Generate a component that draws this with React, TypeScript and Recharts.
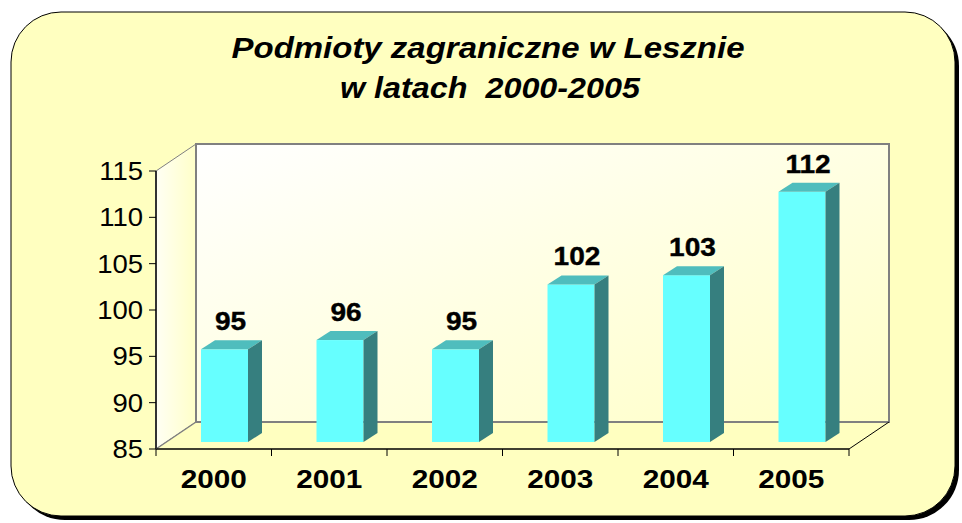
import { BarChart, Bar, XAxis, YAxis, LabelList } from "recharts";

const years = ["2000", "2001", "2002", "2003", "2004", "2005"];
const counts = [95, 96, 95, 102, 103, 112];
const yTicks = [85, 90, 95, 100, 105, 110, 115];

const W = 962;
const H = 523;
const FONT = '"Liberation Sans", Arial, sans-serif';

// front plane of the 3d box
const PL = 156;
const PR = 849;
const PT = 171;
const PB = 449;
const BAND = (PR - PL) / years.length;
// depth of the walls
const WX = 40;
const WY = 27;
// bars sit a bit into the depth, and have their own depth
const OX = 11;
const OY = -7;
const BX = 14;
const BY = 9;

const data = years.map((year, i) => ({ year, value: counts[i] }));

function Box3D(props: any) {
    const { x, y, width, height } = props;
    if (!height || height <= 0) return null;
    const fx = x + OX;
    const fy = y + OY;
    return (
        <g>
            <rect x={fx} y={fy} width={width} height={height} fill="#66FFFF" />
            <polygon
                points={`${fx},${fy} ${fx + BX},${fy - BY} ${fx + width + BX},${fy - BY} ${fx + width},${fy}`}
                fill="#4FBDBD"
            />
            <polygon
                points={`${fx + width},${fy} ${fx + width + BX},${fy - BY} ${fx + width + BX},${fy + height - BY} ${fx + width},${fy + height}`}
                fill="#367F7F"
            />
        </g>
    );
}

function ValueLabel(props: any) {
    const { x, y, width, value } = props;
    const cx = x + OX + width / 2 + 6;
    const by = y + OY - 19;
    return (
        <g transform={`translate(${cx},${by}) scale(1.1,1)`}>
            <text textAnchor="middle" fontFamily={FONT} fontWeight="bold" fontSize={25.5} fill="#000" stroke="#000" strokeWidth={0.4}>
                {value}
            </text>
        </g>
    );
}

function YTick(props: any) {
    const { x, y, payload } = props;
    return (
        <g transform={`translate(${x},${y}) scale(1.1,1)`}>
            <text textAnchor="end" dy="0.36em" fontFamily={FONT} fontSize={25} fill="#000">
                {payload.value}
            </text>
        </g>
    );
}

function XTick(props: any) {
    const { x, payload, index } = props;
    return (
        <g>
            <line x1={x - BAND / 2} y1={PB} x2={x - BAND / 2} y2={PB + 7} stroke="#000" />
            {index === years.length - 1 && (
                <line x1={x + BAND / 2} y1={PB} x2={x + BAND / 2} y2={PB + 7} stroke="#000" />
            )}
            <g transform={`translate(${x},${488}) scale(1.19,1)`}>
                <text textAnchor="middle" fontFamily={FONT} fontWeight="bold" fontSize={25} fill="#000">
                    {payload.value}
                </text>
            </g>
        </g>
    );
}

function Backdrop() {
    return (
        <svg width={W} height={H} style={{ position: "absolute", left: 0, top: 0 }}>
            <defs>
                <linearGradient id="backWall" x1="0" y1="0" x2="1" y2="1">
                    <stop offset="0%" stopColor="#FFFFFF" />
                    <stop offset="100%" stopColor="#FFFFC6" />
                </linearGradient>
                <linearGradient id="sideWall" x1="0" y1="0" x2="1" y2="0">
                    <stop offset="0%" stopColor="#FFFFF4" />
                    <stop offset="100%" stopColor="#FFFFC8" />
                </linearGradient>
            </defs>
            <rect x={15} y={16} width={944} height={504} rx={50} ry={50} fill="#000" />
            <rect x={11} y={12} width={944} height={504} rx={50} ry={50} fill="#FFFFC0" stroke="#000" strokeWidth={1} />

            <text
                x={488}
                y={58}
                textAnchor="middle"
                textLength={513}
                lengthAdjust="spacingAndGlyphs"
                fontFamily={FONT}
                fontWeight="bold"
                fontStyle="italic"
                fontSize={29}
                fill="#000"
            >
                Podmioty zagraniczne w Lesznie
            </text>
            <text
                x={490}
                y={98}
                textAnchor="middle"
                textLength={300}
                lengthAdjust="spacingAndGlyphs"
                fontFamily={FONT}
                fontWeight="bold"
                fontStyle="italic"
                fontSize={29}
                fill="#000"
                style={{ whiteSpace: "pre" }}
            >
                w latach  2000-2005
            </text>

            {/* walls and floor */}
            <polygon
                points={`${PL},${PT} ${PL + WX},${PT - WY} ${PL + WX},${PB - WY} ${PL},${PB}`}
                fill="url(#sideWall)"
                stroke="#808080"
            />
            <rect x={PL + WX} y={PT - WY} width={PR - PL} height={PB - PT} fill="url(#backWall)" stroke="#808080" strokeWidth={2} />
            <polygon
                points={`${PL},${PB} ${PL + WX},${PB - WY} ${PR + WX},${PB - WY} ${PR},${PB}`}
                fill="#FFFFC0"
            />
            <line x1={PL + WX} y1={PB - WY} x2={PR + WX} y2={PB - WY} stroke="#808080" strokeWidth={2} />
            <line x1={PL} y1={PB} x2={PL + WX} y2={PB - WY} stroke="#808080" strokeWidth={1.5} />
            <line x1={PR} y1={PB} x2={PR + WX} y2={PB - WY} stroke="#000" strokeWidth={1} />
        </svg>
    );
}

export default function App() {
    return (
        <div style={{ position: "absolute", left: 0, top: 0, width: W, height: H }}>
            <Backdrop />
            <div style={{ position: "absolute", left: 0, top: 0 }}>
                <BarChart
                    width={W}
                    height={H}
                    data={data}
                    margin={{ top: PT, right: W - PR, bottom: H - PB - 30, left: PL - 60 }}
                >
                    <XAxis
                        dataKey="year"
                        height={30}
                        axisLine={{ stroke: "#000", strokeWidth: 1.5 }}
                        tickLine={false}
                        tick={<XTick />}
                        interval={0}
                    />
                    <YAxis
                        width={60}
                        domain={[85, 115]}
                        ticks={yTicks}
                        allowDataOverflow
                        axisLine={{ stroke: "#333", strokeWidth: 2 }}
                        tickLine={{ stroke: "#000" }}
                        tickSize={7}
                        tickMargin={6}
                        tick={<YTick />}
                        interval={0}
                    />
                    <Bar dataKey="value" barSize={47} shape={<Box3D />} isAnimationActive={false}>
                        <LabelList dataKey="value" content={<ValueLabel />} />
                    </Bar>
                </BarChart>
            </div>
        </div>
    );
}
